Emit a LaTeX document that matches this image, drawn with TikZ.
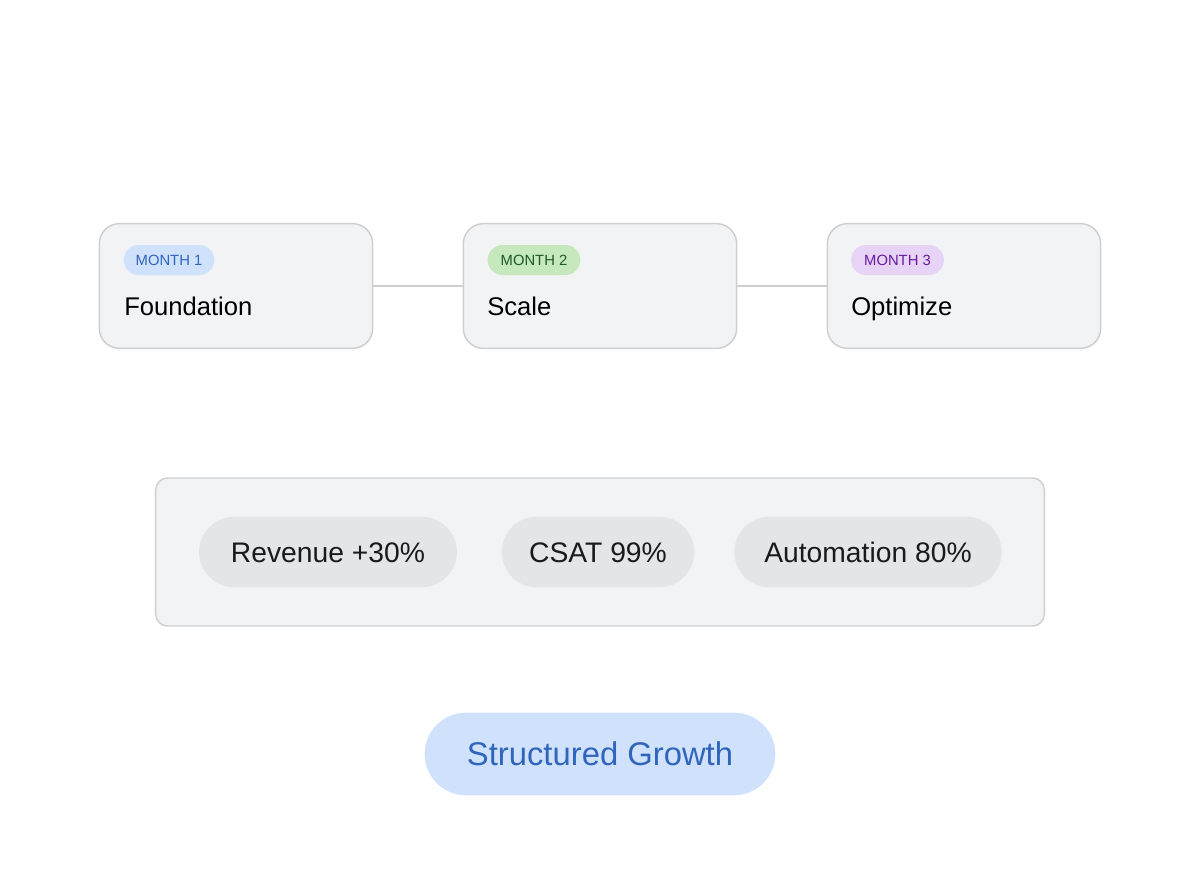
\documentclass[tikz,border=0pt]{standalone}
\usepackage{fontspec}
\setmainfont{Liberation Sans}
\usetikzlibrary{shapes.misc}
\definecolor{cardfill}{HTML}{F1F3F4}
\definecolor{cardline}{HTML}{CDCFD1}
\definecolor{chipfill}{HTML}{E3E5E6}
\definecolor{bluefill}{HTML}{D0E1FB}
\definecolor{bluetext}{HTML}{2F66BC}
\definecolor{greenfill}{HTML}{C5E8BC}
\definecolor{greentext}{HTML}{1F5A2A}
\definecolor{purplefill}{HTML}{E6D3F6}
\definecolor{purpletext}{HTML}{6A1B9A}
\definecolor{inktext}{HTML}{1A1A1A}
\tikzset{
  x=0.75pt,y=-0.75pt,
  box/.style={draw=cardline,line width=1.1pt,fill=cardfill,inner sep=0pt},
  card/.style={box,rounded corners=15pt,minimum width=205pt,minimum height=93.5pt},
  panel/.style={box,rounded corners=9pt,minimum width=666.5pt,minimum height=111pt},
  pill/.style={rounded rectangle,inner sep=0pt,text=inktext},
  tag/.style={pill,minimum height=22.5pt,text height=8pt,text depth=0pt,font=\fontsize{11.1}{13}\selectfont},
  title/.style={anchor=base west,inner sep=0pt,text=black,font=\fontsize{19.2}{23}\selectfont},
  chip/.style={pill,fill=chipfill,minimum height=53pt,text height=15pt,text depth=0pt,font=\fontsize{21.2}{25}\selectfont},
  wire/.style={draw=cardline,line width=1pt}
}
\begin{document}
\begin{tikzpicture}
\useasboundingbox (0,0) rectangle (1200,896);
\fill[white] (0,0) rectangle (1200,896);
\node[card] (c1) at (236,286) {};
\node[card] (c2) at (600,286) {};
\node[card] (c3) at (964,286) {};
\draw[wire] (c1.east) -- (c2.west);
\draw[wire] (c2.east) -- (c3.west);
\node[tag,fill=bluefill,text=bluetext,minimum width=68pt] (m1) at (169,260) {MONTH 1};
\node[tag,fill=greenfill,text=greentext,minimum width=69.5pt] (m2) at (534,260) {MONTH 2};
\node[tag,fill=purplefill,text=purpletext,minimum width=69.5pt] (m3) at (897.5,260) {MONTH 3};
\node[title] (t1) at (124,315) {Foundation};
\node[title] (t2) at (487,315) {Scale};
\node[title] (t3) at (851,315) {Optimize};
\node[panel] (p) at (600,552) {};
\node[chip,minimum width=193.5pt] (k1) at (328,552) {Revenue +30\%};
\node[chip,minimum width=144.5pt] (k2) at (598,552) {CSAT 99\%};
\node[chip,minimum width=200.5pt] (k3) at (868,552) {Automation 80\%};
\node[pill,fill=bluefill,text=bluetext,minimum width=263pt,minimum height=62pt,text height=16.5pt,text depth=0pt,font=\fontsize{24.6}{30}\selectfont] (g) at (600,754) {Structured Growth};
\end{tikzpicture}
\end{document}
